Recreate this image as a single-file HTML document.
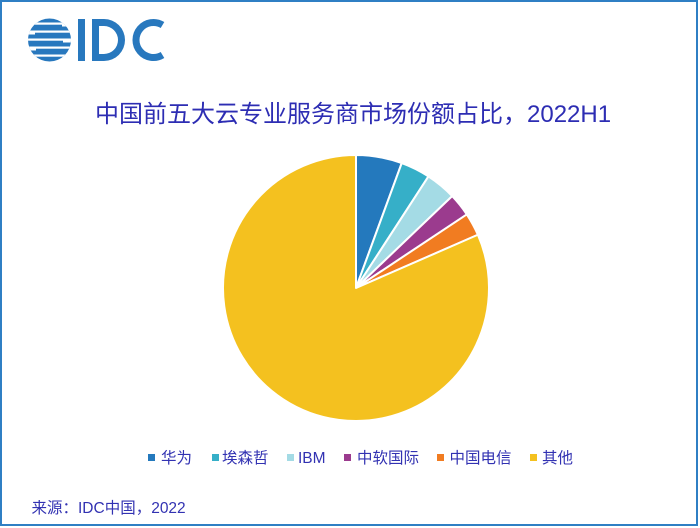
<!DOCTYPE html>
<html><head><meta charset="utf-8"><style>
html,body{margin:0;padding:0;background:#fff;}
body{width:700px;height:528px;position:relative;overflow:hidden;}
svg{position:absolute;left:0;top:0;}
</style></head><body>
<svg width="700" height="528" viewBox="0 0 700 528" xmlns="http://www.w3.org/2000/svg">
<rect x="1" y="1" width="696" height="524" fill="#fff" stroke="#2f7fc4" stroke-width="2"/>
<defs><clipPath id="g"><circle cx="49.5" cy="40" r="21.5"/></clipPath></defs>
<g clip-path="url(#g)">
<rect x="25" y="15" width="50" height="50" fill="#2878be"/>
<rect x="25" y="22.5" width="50" height="2.2" fill="#fff"/>
<rect x="25" y="30.5" width="50" height="2.2" fill="#fff"/>
<rect x="25" y="38.5" width="50" height="2.2" fill="#fff"/>
<rect x="25" y="46.5" width="50" height="2.2" fill="#fff"/>
<rect x="25" y="54.5" width="50" height="2.2" fill="#fff"/>
<rect x="62" y="24" width="12" height="2.5" fill="#fff"/>
<rect x="25" y="32" width="10" height="2.5" fill="#fff"/>
<rect x="63" y="40" width="12" height="2.5" fill="#fff"/>
<rect x="25" y="48" width="11" height="2.5" fill="#fff"/>
</g>
<rect x="78" y="19" width="7" height="42" fill="#2878be"/>
<path fill-rule="evenodd" fill="#2878be" d="M92,19 H104 A21,21 0 0 1 104,61 H92 Z M99,26 H104 A14,14 0 0 1 104,54 H99 Z"/>
<path d="M162.5,25 A17.5,17.5 0 1 0 162.5,55" fill="none" stroke="#2878be" stroke-width="7"/>
<text x="95" y="122" font-family="'Liberation Sans','Noto Sans CJK SC',sans-serif" font-size="24" fill="#2d2db3">中国前五大云专业服务商市场份额占比，2022H1</text>
<g stroke="#fff" stroke-width="2" stroke-linejoin="round">
<path d="M356,288 L356,155 A133,133 0 0 1 401.71,163.10 Z" fill="#2479bd"/>
<path d="M356,288 L401.71,163.10 A133,133 0 0 1 428.43,176.45 Z" fill="#36afc8"/>
<path d="M356,288 L428.43,176.45 A133,133 0 0 1 452.16,196.11 Z" fill="#a4dbe5"/>
<path d="M356,288 L452.16,196.11 A133,133 0 0 1 466.78,214.40 Z" fill="#9b3b8e"/>
<path d="M356,288 L466.78,214.40 A133,133 0 0 1 477.88,234.76 Z" fill="#f17c21"/>
<path d="M356,288 L477.88,234.76 A133,133 0 1 1 356,155 Z" fill="#f4c11f"/>
</g>
<g font-family="'Liberation Sans','Noto Sans CJK SC',sans-serif" font-size="15.5" fill="#3232b2">
<rect x="148" y="454" width="7" height="7" fill="#2479bd"/><text x="161" y="463">华为</text>
<rect x="212" y="454" width="7" height="7" fill="#36afc8"/><text x="222" y="463">埃森哲</text>
<rect x="287" y="454" width="7" height="7" fill="#a4dbe5"/><text x="298" y="463">IBM</text>
<rect x="344" y="454" width="7" height="7" fill="#9b3b8e"/><text x="357" y="463">中软国际</text>
<rect x="437" y="454" width="7" height="7" fill="#f17c21"/><text x="449.5" y="463">中国电信</text>
<rect x="530" y="454" width="7" height="7" fill="#f4c11f"/><text x="542" y="463">其他</text>
<text x="31.5" y="513">来源：IDC中国，2022</text>
</g>
</svg>
</body></html>
